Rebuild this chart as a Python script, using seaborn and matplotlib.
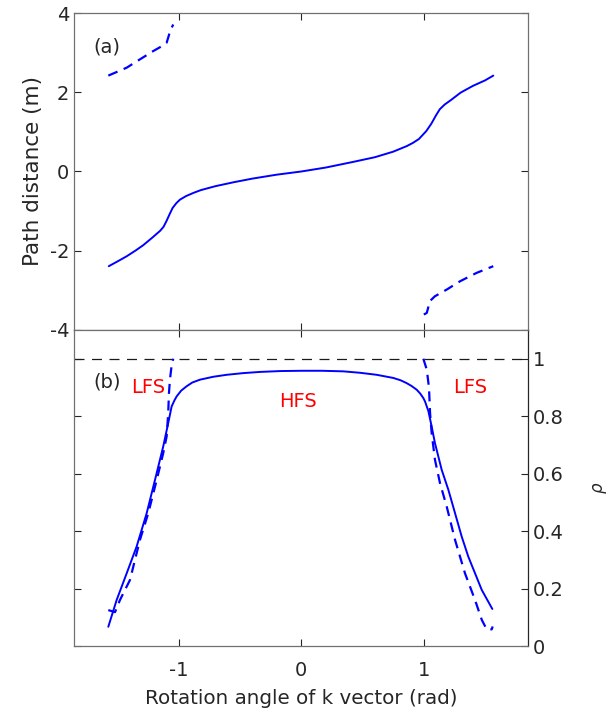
import numpy as np
import pandas as pd
import matplotlib
matplotlib.use("Agg")
import matplotlib.pyplot as plt
import seaborn as sns

# panel (a): path distance vs rotation angle
ang_a = [-1.571, -1.50, -1.425, -1.35, -1.29, -1.22, -1.153, -1.125, -1.10, -1.075, -1.05,
         -1.02, -0.99, -0.94, -0.88, -0.82, -0.70, -0.55, -0.40, -0.20, 0.0,
         0.20, 0.42, 0.60, 0.75, 0.86, 0.91, 0.96, 1.02, 1.06, 1.10, 1.13, 1.17,
         1.22, 1.30, 1.40, 1.50, 1.567]
dist_a = [-2.39, -2.27, -2.14, -1.99, -1.86, -1.68, -1.50, -1.40, -1.25, -1.08, -0.92,
          -0.80, -0.71, -0.62, -0.54, -0.47, -0.37, -0.27, -0.18, -0.08, 0.0,
          0.10, 0.24, 0.36, 0.50, 0.64, 0.72, 0.82, 1.02, 1.20, 1.42, 1.57, 1.69,
          1.80, 1.99, 2.16, 2.30, 2.42]
ang_a_up = [-1.575, -1.425, -1.317, -1.208, -1.14, -1.099, -1.086, -1.07, -1.045]
dist_a_up = [2.42, 2.62, 2.83, 3.04, 3.16, 3.25, 3.38, 3.55, 3.71]
ang_a_dn = [1.0, 1.024, 1.05, 1.09, 1.187, 1.296, 1.43, 1.567]
dist_a_dn = [-3.61, -3.57, -3.27, -3.15, -2.98, -2.77, -2.56, -2.39]

# panel (b): rho vs rotation angle
ang_b = [-1.575, -1.507, -1.425, -1.344, -1.262, -1.194, -1.127, -1.086, -1.058, -1.035,
         -1.017, -0.98, -0.936, -0.89, -0.827, -0.72, -0.609, -0.47, -0.337, -0.17, 0.003,
         0.17, 0.343, 0.48, 0.615, 0.751, 0.81, 0.86, 0.90, 0.942, 0.97, 0.996, 1.010,
         1.037, 1.064, 1.091, 1.146, 1.200, 1.255, 1.309, 1.363, 1.418, 1.473, 1.559]
rho_b = [0.067, 0.160, 0.253, 0.346, 0.462, 0.578, 0.694, 0.776, 0.834, 0.855,
         0.869, 0.889, 0.904, 0.917, 0.927, 0.937, 0.944, 0.950, 0.954, 0.957, 0.958,
         0.958, 0.956, 0.951, 0.944, 0.933, 0.925, 0.915, 0.905, 0.892, 0.879, 0.863, 0.851,
         0.818, 0.764, 0.706, 0.613, 0.544, 0.462, 0.381, 0.311, 0.253, 0.195, 0.129]
ang_b_l = [-1.575, -1.52, -1.48, -1.398, -1.317, -1.249, -1.180, -1.127, -1.099,
           -1.086, -1.080, -1.072, -1.06, -1.045]
rho_b_l = [0.125, 0.118, 0.160, 0.230, 0.369, 0.462, 0.578, 0.671, 0.729,
           0.811, 0.880, 0.927, 0.97, 1.0]
ang_b_r = [0.996, 1.024, 1.042, 1.051, 1.064, 1.091, 1.132, 1.187, 1.255, 1.336,
           1.418, 1.473, 1.513, 1.554, 1.562]
rho_b_r = [1.0, 0.962, 0.90, 0.811, 0.741, 0.648, 0.567, 0.485, 0.369, 0.253,
           0.160, 0.091, 0.058, 0.058, 0.068]

sns.set_style("ticks")
plt.rcParams['font.family'] = ['DejaVu Sans']
plt.rcParams['axes.unicode_minus'] = False
txt = '#262626'
blue = '#0000ff'
dash = (0, (4.5, 3))

fig = plt.figure(figsize=(6.13, 7.11), dpi=100)
ax1 = fig.add_axes([0.1207, 0.5359, 0.7406, 0.4458])
ax2 = fig.add_axes([0.1207, 0.0914, 0.7406, 0.4445])

# top panel
sns.lineplot(x=ang_a, y=dist_a, ax=ax1, color=blue, lw=1.4, sort=False, estimator=None)
sns.lineplot(x=ang_a_up, y=dist_a_up, ax=ax1, color=blue, lw=1.6, sort=False,
             estimator=None, linestyle=dash)
sns.lineplot(x=ang_a_dn, y=dist_a_dn, ax=ax1, color=blue, lw=1.6, sort=False,
             estimator=None, linestyle=dash)
ax1.set_xlim(-1.855, 1.85)
ax1.set_ylim(-4, 4)
ax1.set_yticks([-4, -2, 0, 2, 4])
ax1.set_xticks([-1, 0, 1])
ax1.tick_params(direction='in', top=True, right=True, labelbottom=False,
                labelsize=14, colors=txt, length=5, width=0.8)
ax1.set_ylabel('Path distance (m)', fontsize=15.5, color=txt, labelpad=5)
ax1.text(-1.7, 3.15, '(a)', fontsize=14, color=txt, va='center')

# bottom panel
sns.lineplot(x=ang_b, y=rho_b, ax=ax2, color=blue, lw=1.4, sort=False, estimator=None)
sns.lineplot(x=ang_b_l, y=rho_b_l, ax=ax2, color=blue, lw=1.6, sort=False,
             estimator=None, linestyle=dash)
sns.lineplot(x=ang_b_r, y=rho_b_r, ax=ax2, color=blue, lw=1.6, sort=False,
             estimator=None, linestyle=dash)
ax2.axhline(1.0, color='#1a1a1a', lw=0.9, linestyle=(0, (8, 6)))
ax2.set_xlim(-1.855, 1.85)
ax2.set_ylim(0, 1.1)
ax2.set_xticks([-1, 0, 1])
ax2.set_yticks([0, 0.2, 0.4, 0.6, 0.8, 1.0])
ax2.set_yticklabels(['0', '0.2', '0.4', '0.6', '0.8', '1'])
ax2.tick_params(direction='in', top=True, right=True, left=True,
                labelleft=False, labelright=True,
                labelsize=14, colors=txt, length=5, width=0.8)
ax2.tick_params(axis='x', pad=11)
ax2.yaxis.set_label_position('right')
ax2.set_ylabel(r'$\rho$', fontsize=12, color=txt, labelpad=20)
ax2.set_xlabel('Rotation angle of k vector (rad)', fontsize=14.3, color=txt, labelpad=6)
ax2.text(-1.7, 0.92, '(b)', fontsize=14, color=txt, va='center')
ax2.text(-1.25, 0.90, 'LFS', fontsize=14, color='#ff0000', ha='center', va='center')
ax2.text(-0.03, 0.85, 'HFS', fontsize=14, color='#ff0000', ha='center', va='center')
ax2.text(1.377, 0.90, 'LFS', fontsize=14, color='#ff0000', ha='center', va='center')

for ax in (ax1, ax2):
    for s in ax.spines.values():
        s.set_color('#707070')
        s.set_linewidth(0.9)
ax2.spines['right'].set_color('#262626')

fig.savefig('out.png', dpi=100)
